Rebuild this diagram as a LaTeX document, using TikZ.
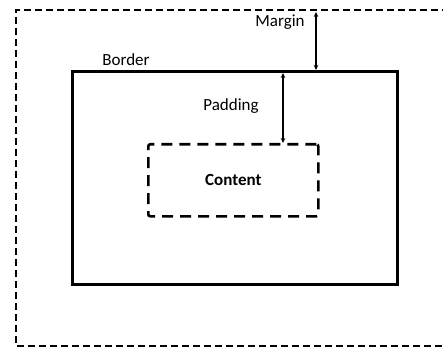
\documentclass[tikz,border=0pt]{standalone}
\usepackage{fontspec}
\setmainfont{Carlito}
\usetikzlibrary{arrows.meta}
\begin{document}
\begin{tikzpicture}[x=1pt,y=-1pt,
  lbl/.style={font=\fontsize{17}{19}\selectfont, inner sep=0pt},
  dimarrow/.style={line width=1.3pt, {Stealth[length=5pt,width=4.5pt]}-{Stealth[length=5pt,width=4.5pt]}}]
\useasboundingbox (0,0) rectangle (443,347);
\fill[white] (0,0) rectangle (443,347);
% outer margin box (dashed, extends off right edge)
\draw[line width=2.4pt, dash pattern=on 7pt off 4pt] (460,10) -- (16,10) -- (16,346) -- (460,346);
% border box
\node[draw, line width=2.6pt, minimum width=325pt, minimum height=213pt, inner sep=0pt, anchor=north west] (border) at (71,70) {};
% content box
\node[draw, line width=2.6pt, dash pattern=on 11pt off 7pt, rounded corners=2pt, minimum width=170pt, minimum height=72pt, anchor=north west, font=\fontsize{17}{19}\selectfont\bfseries] (content) at (147,143) {Content};
% labels
\node[lbl] (margin) at (280,22) {Margin};
\node[lbl] (bordertxt) at (126,60) {Border};
\node[lbl] (padding) at (231,106) {Padding};
% arrows
\coordinate (mtop) at (316,12);
\draw[dimarrow] (mtop) -- (mtop |- border.north);
\coordinate (ptop) at (283,73);
\draw[dimarrow] (ptop) -- (ptop |- content.north);
\end{tikzpicture}
\end{document}
